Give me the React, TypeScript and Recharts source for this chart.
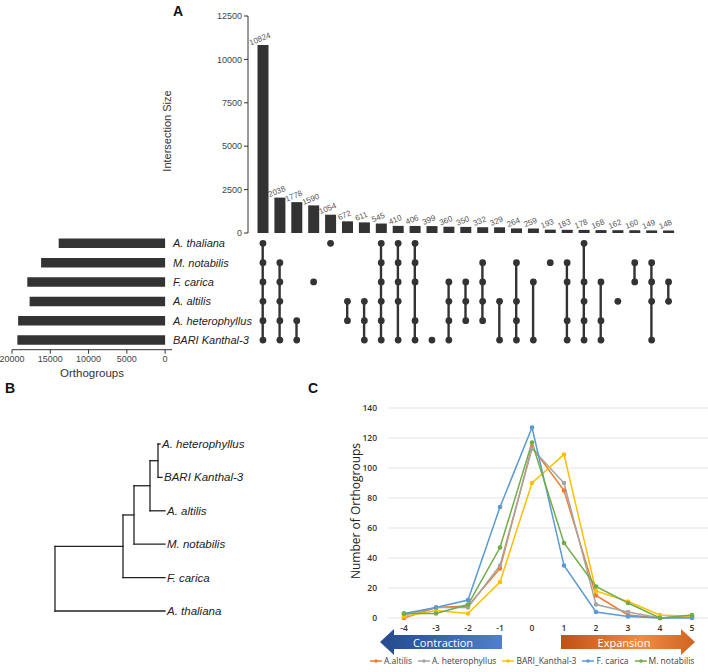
import React from 'react';
import {
  BarChart,
  Bar,
  XAxis,
  YAxis,
  ComposedChart,
  Line,
  LineChart,
  CartesianGrid,
  Legend,
  LabelList,
  ReferenceLine,
  Scatter,
} from 'recharts';

// ---- Panel A: UpSet plot ----
const setNames = ['A. thaliana', 'M. notabilis', 'F. carica', 'A. altilis', 'A. heterophyllus', 'BARI Kanthal-3'];
const setSizes = [13900, 16200, 18000, 17700, 19200, 19300];
const setSizeTicks = [0, 5000, 10000, 15000, 20000];

const intersectionSizes = [
  10824, 2038, 1778, 1590, 1054, 672, 611, 545, 410, 406, 399, 360, 350, 332, 329, 264, 259, 193, 183, 178,
  168, 162, 160, 149, 148,
];
// which sets (index into setNames) take part in each intersection column
const intersectionSets = [
  [0, 1, 2, 3, 4, 5], [1, 2, 3, 4, 5], [4, 5], [2], [0], [3, 4], [3, 4, 5], [0, 1, 2, 3, 4, 5], [0, 1, 2, 3, 5],
  [0, 1, 2, 4, 5], [5], [2, 3, 4, 5], [2, 3, 4], [1, 2, 3, 4], [3, 5], [1, 3, 4, 5], [2, 5], [1], [1, 2, 4, 5],
  [0, 2, 3, 4, 5], [2, 4, 5], [3], [1, 2], [1, 2, 3, 5], [2, 3],
];
const intersectionTicks = [0, 2500, 5000, 7500, 10000, 12500];

// ---- Panel B: species tree ----
const leafNames = ['A. heterophyllus', 'BARI Kanthal-3', 'A. altilis', 'M. notabilis', 'F. carica', 'A. thaliana'];
const leafDepths = [105, 107, 110, 110, 110, 110];
const cladeDepths = [103, 95, 79, 68, 0];
const cladeChildren = [['L0', 'L1'], ['N0', 'L2'], ['N1', 'L3'], ['N2', 'L4'], ['N3', 'L5']];

// ---- Panel C: gene family size change ----
const changeBins = ['-4', '-3', '-2', '-1', '0', '1', '2', '3', '4', '5'];
const altilis = [0, 7, 8, 33, 114, 85, 15, 2, 0, 1];
const heterophyllus = [2, 7, 7, 35, 113, 90, 9, 4, 0, 1];
const kanthal = [1, 5, 3, 24, 90, 109, 18, 11, 2, 1];
const carica = [3, 7, 12, 74, 127, 35, 4, 1, 0, 0];
const notabilis = [3, 3, 9, 47, 117, 50, 21, 10, 0, 2];
const countTicks = [0, 20, 40, 60, 80, 100, 120, 140];

const ARIAL = '"Liberation Sans", Arial, sans-serif';
const CALIBRI = '"Open Sans", "Noto Sans", sans-serif';

const intersectionData = intersectionSizes.map((size, i) => ({ id: `c${i}`, size }));

const matrixData = intersectionSets.map((members, i) => {
  const rows = members.map((s) => 5 - s);
  const row: Record<string, any> = {
    id: `c${i}`,
    span: rows.length > 1 ? [Math.min(...rows), Math.max(...rows)] : null,
  };
  setNames.forEach((_, s) => {
    row[`s${s}`] = members.includes(s) ? 5 - s : null;
  });
  return row;
});

const setData = setNames.map((name, i) => ({ name, size: setSizes[i] }));

type TreePoint = { x: number; y: number };
const nodePos: Record<string, TreePoint> = {};
leafNames.forEach((_, i) => {
  nodePos[`L${i}`] = { x: leafDepths[i], y: i };
});
const treeSegments: [TreePoint, TreePoint][] = [];
cladeChildren.forEach((kids, i) => {
  const pts = kids.map((k) => nodePos[k]);
  const ys = pts.map((p) => p.y);
  const x = cladeDepths[i];
  nodePos[`N${i}`] = { x, y: (Math.min(...ys) + Math.max(...ys)) / 2 };
  treeSegments.push([{ x, y: Math.min(...ys) }, { x, y: Math.max(...ys) }]);
  pts.forEach((p) => treeSegments.push([{ x, y: p.y }, { x: p.x, y: p.y }]));
});
const leafData = leafNames.map((name, i) => ({ x: leafDepths[i], y: i, name }));

const changeData = changeBins.map((bin, i) => ({
  bin,
  altilis: altilis[i],
  heterophyllus: heterophyllus[i],
  kanthal: kanthal[i],
  carica: carica[i],
  notabilis: notabilis[i],
}));

const series = [
  { key: 'altilis', name: 'A.altilis', color: '#ED7D31' },
  { key: 'heterophyllus', name: 'A. heterophyllus', color: '#A5A5A5' },
  { key: 'kanthal', name: 'BARI_Kanthal-3', color: '#FFC000' },
  { key: 'carica', name: 'F. carica', color: '#5B9BD5' },
  { key: 'notabilis', name: 'M. notabilis', color: '#70AD47' },
];

const BarValueLabel = (props: any) => {
  const { x, y, width, value } = props;
  const cx = x + width / 2 - 3;
  const cy = y - 6;
  return (
    <text
      x={cx}
      y={cy}
      transform={`rotate(-22 ${cx} ${cy})`}
      textAnchor="middle"
      dominantBaseline="central"
      fontSize={8}
      fill="#555"
      fontFamily={ARIAL}
    >
      {value}
    </text>
  );
};

const SetTick = (props: any) => {
  const { x, y, payload } = props;
  return (
    <text x={x} y={y} dy={4} fontSize={11} fontStyle="italic" fill="#222" fontFamily={ARIAL}>
      {payload.value}
    </text>
  );
};

const LeafLabel = (props: any) => {
  const { cx, cy, payload } = props;
  return (
    <text x={cx + 2} y={cy} dy={4} fontSize={11.5} fontStyle="italic" fill="#222" fontFamily={ARIAL}>
      {payload.name}
    </text>
  );
};

const ChangeLegend = () => (
  <div
    style={{
      display: 'flex',
      alignItems: 'center',
      gap: 6,
      whiteSpace: 'nowrap',
      fontFamily: CALIBRI,
      fontSize: 8.5,
      color: '#404040',
    }}
  >
    {series.map((s) => (
      <span key={s.key} style={{ display: 'flex', alignItems: 'center' }}>
        <svg width={12} height={8}>
          <line x1={0} y1={4} x2={12} y2={4} stroke={s.color} strokeWidth={1.5} />
          <circle cx={6} cy={4} r={1.8} fill={s.color} />
        </svg>
        <span style={{ marginLeft: 2 }}>{s.name}</span>
      </span>
    ))}
  </div>
);

export default function App() {
  return (
    <div style={{ position: 'absolute', left: 0, top: 0, width: 708, height: 672, background: '#fff', overflow: 'hidden' }}>
      {/* A: intersection sizes */}
      <div style={{ position: 'absolute', left: 160, top: 0 }}>
        <BarChart width={548} height={240} data={intersectionData} margin={{ top: 16, right: 31, left: 0, bottom: 7 }}>
          <XAxis dataKey="id" type="category" hide padding={{ left: 6.5, right: 0 }} />
          <YAxis
            type="number"
            domain={[0, 12500]}
            ticks={intersectionTicks}
            width={88}
            tick={{ fontSize: 9, fill: '#444', fontFamily: ARIAL }}
            tickSize={4}
            tickMargin={2}
            axisLine={{ stroke: '#333' }}
            tickLine={{ stroke: '#333' }}
            label={() => (
              <text
                x={7}
                y={131}
                transform="rotate(-90 7 131)"
                textAnchor="middle"
                dominantBaseline="central"
                fontSize={11}
                fill="#333"
                fontFamily={ARIAL}
              >
                Intersection Size
              </text>
            )}
          />
          <Bar dataKey="size" fill="#333" barSize={11} isAnimationActive={false}>
            <LabelList dataKey="size" content={BarValueLabel} />
          </Bar>
        </BarChart>
      </div>

      {/* A: membership matrix */}
      <div style={{ position: 'absolute', left: 160, top: 222 }}>
        <ComposedChart width={548} height={130} data={matrixData} margin={{ top: 11.6, right: 31, left: 88, bottom: 2.3 }}>
          <XAxis dataKey="id" type="category" hide padding={{ left: 6.5, right: 0 }} />
          <YAxis type="number" domain={[-0.5, 5.5]} hide />
          <Bar dataKey="span" fill="#333" barSize={2.4} isAnimationActive={false} />
          {setNames.map((n, s) => (
            <Line
              key={n}
              dataKey={`s${s}`}
              stroke="none"
              dot={{ r: 3.4, fill: '#333', stroke: 'none' }}
              activeDot={false}
              isAnimationActive={false}
            />
          ))}
        </ComposedChart>
      </div>

      {/* A: set sizes */}
      <div style={{ position: 'absolute', left: 0, top: 222 }}>
        <BarChart
          layout="vertical"
          width={260}
          height={165}
          data={setData}
          margin={{ top: 11.6, right: 8, left: 12, bottom: 7.3 }}
        >
          <XAxis
            type="number"
            domain={[-900, 20000]}
            allowDataOverflow
            reversed
            ticks={setSizeTicks}
            interval={0}
            height={30}
            tick={{ fontSize: 9, fill: '#444', fontFamily: ARIAL }}
            tickSize={4}
            tickMargin={2}
            axisLine={{ stroke: '#333' }}
            tickLine={{ stroke: '#333' }}
            label={() => (
              <text x={92} y={155} textAnchor="middle" fontSize={11.5} fill="#333" fontFamily={ARIAL}>
                Orthogroups
              </text>
            )}
          />
          <YAxis
            type="category"
            dataKey="name"
            orientation="right"
            width={80}
            interval={0}
            axisLine={false}
            tickLine={false}
            tickSize={0}
            tickMargin={1}
            tick={<SetTick />}
          />
          <Bar dataKey="size" fill="#333" barSize={9.5} isAnimationActive={false} />
        </BarChart>
      </div>

      {/* B: tree */}
      <div style={{ position: 'absolute', left: 0, top: 380 }}>
        <ComposedChart width={300} height={260} margin={{ top: 64, right: 135, left: 55, bottom: 29 }}>
          <XAxis type="number" dataKey="x" domain={[0, 110]} hide />
          <YAxis type="number" dataKey="y" domain={[0, 5]} reversed hide />
          {treeSegments.map((seg, i) => (
            <ReferenceLine key={i} segment={seg} stroke="#222" strokeWidth={1.3} strokeLinecap="square" ifOverflow="visible" />
          ))}
          <Scatter data={leafData} shape={LeafLabel} isAnimationActive={false} />
        </ComposedChart>
      </div>

      {/* C: size change */}
      <div style={{ position: 'absolute', left: 300, top: 390 }}>
        <LineChart width={408} height={282} data={changeData} margin={{ top: 18, right: 0, left: 0, bottom: 24 }}>
          <CartesianGrid vertical={false} stroke="#e4e4e4" />
          <XAxis
            dataKey="bin"
            padding={{ left: 16, right: 16 }}
            interval={0}
            axisLine={false}
            tickLine={false}
            tickSize={6}
            tickMargin={1}
            height={30}
            tick={{ fontSize: 8.5, fill: '#333', fontWeight: 600, fontFamily: CALIBRI }}
          />
          <YAxis
            domain={[0, 140]}
            ticks={countTicks}
            width={88}
            axisLine={false}
            tickLine={false}
            tickMargin={5}
            tick={{ fontSize: 8.5, fill: '#333', fontWeight: 600, fontFamily: CALIBRI }}
            label={() => (
              <text
                x={55}
                y={121}
                transform="rotate(-90 55 121)"
                textAnchor="middle"
                dominantBaseline="central"
                fontSize={12}
                fill="#222"
                fontFamily={CALIBRI}
              >
                Number of Orthogroups
              </text>
            )}
          />
          {series.map((s) => (
            <Line
              key={s.key}
              type="linear"
              dataKey={s.key}
              name={s.name}
              stroke={s.color}
              strokeWidth={1.5}
              dot={{ r: 1.6, fill: s.color, stroke: s.color }}
              activeDot={false}
              isAnimationActive={false}
            />
          ))}
          <Legend
            layout="horizontal"
            verticalAlign="middle"
            align="center"
            wrapperStyle={{ top: 265, left: 70, width: 'auto' }}
            content={ChangeLegend}
          />
        </LineChart>
      </div>

      {/* panel letters and direction arrows */}
      <svg width={708} height={672} style={{ position: 'absolute', left: 0, top: 0, pointerEvents: 'none' }}>
        <defs>
          <linearGradient id="contractGrad" x1="0" y1="0" x2="1" y2="0">
            <stop offset="0%" stopColor="#234a8c" />
            <stop offset="100%" stopColor="#4f80cc" />
          </linearGradient>
          <linearGradient id="expandGrad" x1="0" y1="0" x2="1" y2="0">
            <stop offset="0%" stopColor="#bf5214" />
            <stop offset="60%" stopColor="#f08c42" />
            <stop offset="100%" stopColor="#cf6420" />
          </linearGradient>
        </defs>
        <text x={173} y={16} fontSize={14} fontWeight="bold" fontFamily={ARIAL} fill="#111">A</text>
        <text x={5} y={393} fontSize={14} fontWeight="bold" fontFamily={ARIAL} fill="#111">B</text>
        <text x={308} y={393} fontSize={14} fontWeight="bold" fontFamily={ARIAL} fill="#111">C</text>
        <polygon points="380,642 394,629 394,635 502,635 502,649 394,649 394,655" fill="url(#contractGrad)" />
        <text x={443} y={642} dominantBaseline="central" textAnchor="middle" fontSize={11} fill="#fff" fontFamily={CALIBRI}>
          Contraction
        </text>
        <polygon points="561,635 681,635 681,629 695,642 681,655 681,649 561,649" fill="url(#expandGrad)" />
        <text x={624} y={642} dominantBaseline="central" textAnchor="middle" fontSize={11} fill="#fff" fontFamily={CALIBRI}>
          Expansion
        </text>
      </svg>
    </div>
  );
}
